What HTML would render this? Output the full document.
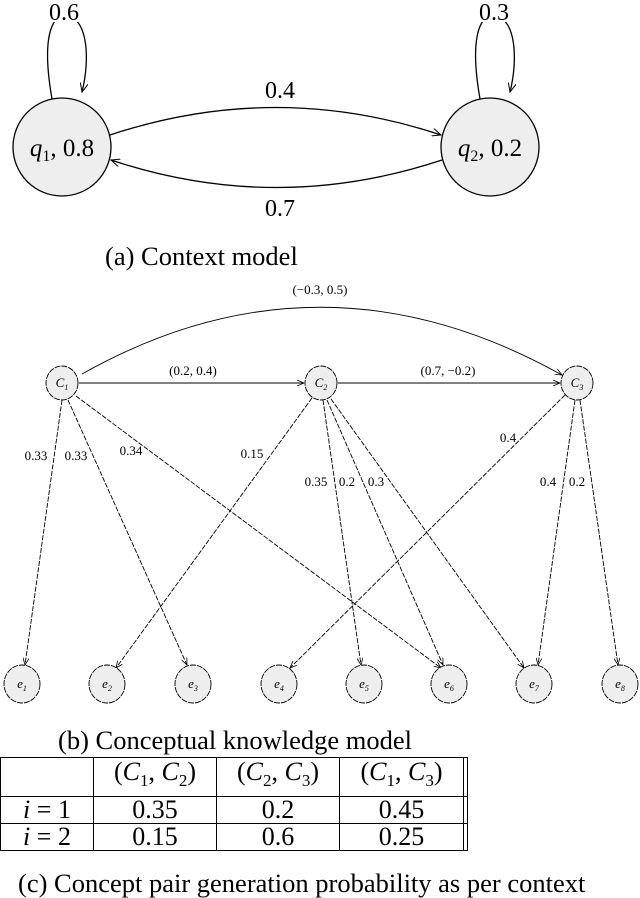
<!DOCTYPE html>
<html><head><style>
body{margin:0;background:#fff;width:640px;height:889px;overflow:hidden;position:relative;font-family:"Liberation Serif",serif}
.cap{position:absolute;font-family:"Liberation Serif",serif;font-size:26.5px;white-space:nowrap;line-height:30px}
table{position:absolute;left:0;top:757px;border-collapse:collapse;font-size:26px;font-family:"Liberation Serif",serif}
td{border:1.5px solid #000;text-align:center;padding:0;height:26px;line-height:26px}
</style></head><body>
<svg width="640" height="889" style="position:absolute;left:0;top:0">
<defs><marker id="a" markerWidth="10" markerHeight="8" refX="9" refY="4" orient="auto" markerUnits="userSpaceOnUse"><path d="M0,0 L9,4 L0,8" fill="none" stroke="#000" stroke-width="1"/></marker>
<marker id="s" markerWidth="8" markerHeight="6" refX="7" refY="3" orient="auto" markerUnits="userSpaceOnUse"><path d="M0,0 L7,3 L0,6" fill="none" stroke="#000" stroke-width="0.8"/></marker></defs>
<g fill="#eee" stroke="#000" stroke-width="1.3">
<circle cx="62" cy="147" r="49"/><circle cx="490" cy="147" r="49"/></g>
<g fill="none" stroke="#000" stroke-width="1.3">
<path d="M52,99 C40,30 55,12 68,16 C88,20 90,60 82,92" marker-end="url(#a)"/>
<path d="M480,99 C468,30 483,12 496,16 C516,20 518,60 510,92" marker-end="url(#a)"/>
<path d="M110,135 Q276,80 441,135" marker-end="url(#a)"/>
<path d="M442,160 Q276,215 111,160" marker-end="url(#a)"/></g>
<g font-family="Liberation Serif,serif" font-size="24" text-anchor="middle">
<rect x="44" y="0" width="40" height="22" fill="#fff"/><rect x="474" y="0" width="40" height="22" fill="#fff"/>
<text x="64" y="20">0.6</text><text x="494" y="20">0.3</text>
<text x="280" y="98">0.4</text><text x="280" y="216">0.7</text>
<text x="62" y="156" font-size="25"><tspan font-style="italic">q</tspan><tspan font-size="16" dy="5">1</tspan><tspan dy="-5">, 0.8</tspan></text>
<text x="490" y="156" font-size="25"><tspan font-style="italic">q</tspan><tspan font-size="16" dy="5">2</tspan><tspan dy="-5">, 0.2</tspan></text>
</g>
<g fill="none" stroke="#000" stroke-width="0.9">
<path d="M82,374 Q320,240 562,375" marker-end="url(#s)"/>
<line x1="79" y1="383" x2="304" y2="383" marker-end="url(#s)"/>
<line x1="338" y1="383" x2="560" y2="383" marker-end="url(#s)"/>
<g stroke-dasharray="5,1.5">
<line x1="62" y1="400" x2="25" y2="665" marker-end="url(#s)"/>
<line x1="68" y1="400" x2="187" y2="665" marker-end="url(#s)"/>
<line x1="76" y1="396" x2="441" y2="668" marker-end="url(#s)"/>
<line x1="312" y1="398" x2="116" y2="668" marker-end="url(#s)"/>
<line x1="323" y1="400" x2="361" y2="665" marker-end="url(#s)"/>
<line x1="327" y1="400" x2="443" y2="665" marker-end="url(#s)"/>
<line x1="331" y1="399" x2="524" y2="668" marker-end="url(#s)"/>
<line x1="565" y1="395" x2="290" y2="668" marker-end="url(#s)"/>
<line x1="575" y1="400" x2="538" y2="665" marker-end="url(#s)"/>
<line x1="580" y1="400" x2="618" y2="665" marker-end="url(#s)"/>
</g></g>
<g fill="#eee" stroke="#000" stroke-width="0.9" stroke-dasharray="6,1">
<ellipse cx="62" cy="383" rx="16" ry="17"/><ellipse cx="321" cy="383" rx="16" ry="17"/><ellipse cx="577" cy="383" rx="16" ry="17"/>
<ellipse cx="22" cy="684" rx="18" ry="19"/><ellipse cx="107" cy="684" rx="18" ry="19"/><ellipse cx="193" cy="684" rx="18" ry="19"/><ellipse cx="279" cy="684" rx="18" ry="19"/><ellipse cx="364" cy="684" rx="18" ry="19"/><ellipse cx="449" cy="684" rx="18" ry="19"/><ellipse cx="534" cy="684" rx="18" ry="19"/><ellipse cx="620" cy="684" rx="18" ry="19"/>
</g>
<g font-family="Liberation Serif,serif" font-size="13" text-anchor="middle">
<text x="320" y="294">(−0.3, 0.5)</text><text x="193" y="375">(0.2, 0.4)</text><text x="448" y="375">(0.7, −0.2)</text>
<text x="36" y="460">0.33</text><text x="76" y="460">0.33</text><text x="131" y="455">0.34</text><text x="252" y="458">0.15</text>
<text x="316" y="486">0.35</text><text x="347" y="486">0.2</text><text x="376" y="486">0.3</text><text x="508" y="442">0.4</text>
<text x="548" y="486">0.4</text><text x="577" y="486">0.2</text>
<g font-style="italic" font-size="13">
<text x="62" y="387">C<tspan font-size="8" dy="3">1</tspan></text><text x="321" y="387">C<tspan font-size="8" dy="3">2</tspan></text><text x="577" y="387">C<tspan font-size="8" dy="3">3</tspan></text>
<text x="22" y="688">e<tspan font-size="8" dy="3">1</tspan></text><text x="107" y="688">e<tspan font-size="8" dy="3">2</tspan></text><text x="193" y="688">e<tspan font-size="8" dy="3">3</tspan></text><text x="279" y="688">e<tspan font-size="8" dy="3">4</tspan></text><text x="364" y="688">e<tspan font-size="8" dy="3">5</tspan></text><text x="449" y="688">e<tspan font-size="8" dy="3">6</tspan></text><text x="534" y="688">e<tspan font-size="8" dy="3">7</tspan></text><text x="620" y="688">e<tspan font-size="8" dy="3">8</tspan></text>
</g></g>
</svg>
<div class="cap" style="left:105px;top:241px">(a) Context model</div>
<div class="cap" style="left:58px;top:725px">(b) Conceptual knowledge model</div>
<table>
<tr style="height:39px"><td style="width:92px"></td><td style="width:122px">(<i>C</i><sub style="font-size:17px">1</sub>, <i>C</i><sub style="font-size:17px">2</sub>)</td><td style="width:122px">(<i>C</i><sub style="font-size:17px">2</sub>, <i>C</i><sub style="font-size:17px">3</sub>)</td><td style="width:123px">(<i>C</i><sub style="font-size:17px">1</sub>, <i>C</i><sub style="font-size:17px">3</sub>)</td><td style="width:3px"></td></tr>
<tr><td><i>i</i> = 1</td><td>0.35</td><td>0.2</td><td>0.45</td><td></td></tr>
<tr><td><i>i</i> = 2</td><td>0.15</td><td>0.6</td><td>0.25</td><td></td></tr>
</table>
<div class="cap" style="left:18px;top:868px">(c) Concept pair generation probability as per context</div>
</body></html>
